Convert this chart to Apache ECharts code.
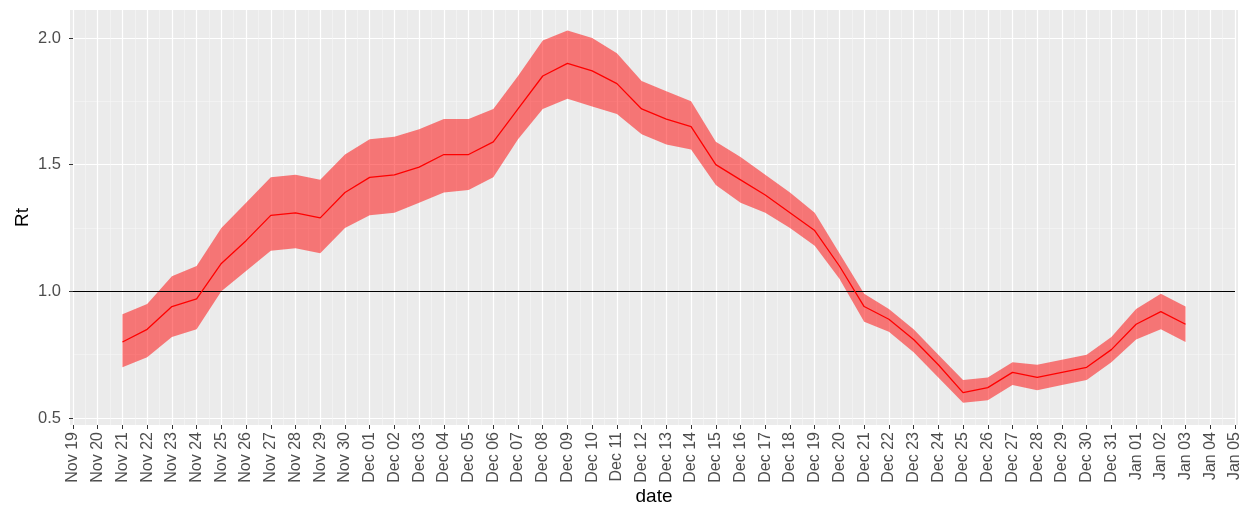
<!DOCTYPE html>
<html>
<head>
<meta charset="utf-8">
<script src="https://cdn.jsdelivr.net/npm/echarts@6/dist/echarts.min.js"></script>
<style>
  html, body { margin: 0; padding: 0; background: #fff; }
  #chart { width: 1246px; height: 508px; }
</style>
</head>
<body>
<div id="chart"></div>
<script>
// x axis tick labels (one per day)
const tickLabels = [
  'Nov 19', 'Nov 20', 'Nov 21', 'Nov 22', 'Nov 23', 'Nov 24', 'Nov 25', 'Nov 26',
  'Nov 27', 'Nov 28', 'Nov 29', 'Nov 30', 'Dec 01', 'Dec 02', 'Dec 03', 'Dec 04',
  'Dec 05', 'Dec 06', 'Dec 07', 'Dec 08', 'Dec 09', 'Dec 10', 'Dec 11', 'Dec 12',
  'Dec 13', 'Dec 14', 'Dec 15', 'Dec 16', 'Dec 17', 'Dec 18', 'Dec 19', 'Dec 20',
  'Dec 21', 'Dec 22', 'Dec 23', 'Dec 24', 'Dec 25', 'Dec 26', 'Dec 27', 'Dec 28',
  'Dec 29', 'Dec 30', 'Dec 31', 'Jan 01', 'Jan 02', 'Jan 03', 'Jan 04', 'Jan 05'
];

// dates that carry an estimate
const dataDates = [
  'Nov 21', 'Nov 22', 'Nov 23', 'Nov 24', 'Nov 25', 'Nov 26', 'Nov 27', 'Nov 28',
  'Nov 29', 'Nov 30', 'Dec 01', 'Dec 02', 'Dec 03', 'Dec 04', 'Dec 05', 'Dec 06',
  'Dec 07', 'Dec 08', 'Dec 09', 'Dec 10', 'Dec 11', 'Dec 12', 'Dec 13', 'Dec 14',
  'Dec 15', 'Dec 16', 'Dec 17', 'Dec 18', 'Dec 19', 'Dec 20', 'Dec 21', 'Dec 22',
  'Dec 23', 'Dec 24', 'Dec 25', 'Dec 26', 'Dec 27', 'Dec 28', 'Dec 29', 'Dec 30',
  'Dec 31', 'Jan 01', 'Jan 02', 'Jan 03'
];

const rt = [
  0.80, 0.85, 0.94, 0.97, 1.11, 1.20, 1.30, 1.31, 1.29, 1.39, 1.45, 1.46,
  1.49, 1.54, 1.54, 1.59, 1.72, 1.85, 1.90, 1.87, 1.82, 1.72, 1.68, 1.65,
  1.50, 1.44, 1.38, 1.31, 1.24, 1.10, 0.94, 0.89, 0.81, 0.71, 0.60, 0.62,
  0.68, 0.66, 0.68, 0.70, 0.77, 0.87, 0.92, 0.87
];
const rtLower = [
  0.70, 0.74, 0.82, 0.85, 1.00, 1.08, 1.16, 1.17, 1.15, 1.25, 1.30, 1.31,
  1.35, 1.39, 1.40, 1.45, 1.60, 1.72, 1.76, 1.73, 1.70, 1.62, 1.58, 1.56,
  1.42, 1.35, 1.31, 1.25, 1.18, 1.05, 0.88, 0.84, 0.76, 0.66, 0.56, 0.57,
  0.63, 0.61, 0.63, 0.65, 0.72, 0.81, 0.85, 0.80
];
const rtUpper = [
  0.91, 0.95, 1.06, 1.10, 1.25, 1.35, 1.45, 1.46, 1.44, 1.54, 1.60, 1.61,
  1.64, 1.68, 1.68, 1.72, 1.85, 1.99, 2.03, 2.00, 1.94, 1.83, 1.79, 1.75,
  1.59, 1.53, 1.46, 1.39, 1.31, 1.15, 0.99, 0.93, 0.85, 0.75, 0.65, 0.66,
  0.72, 0.71, 0.73, 0.75, 0.82, 0.93, 0.99, 0.94
];

const yMajor = [0.5, 1.0, 1.5, 2.0];
const yMinor = [0.75, 1.25, 1.75];
const threshold = 1.0;

const xOf = d => tickLabels.indexOf(d);
const bandData = dataDates.map((d, i) => [xOf(d), rtLower[i], rtUpper[i]]);
const rtData = dataDates.map((d, i) => [xOf(d), rt[i]]);

// ribbon: one polygon, upper edge left to right then lower edge back
function renderBand(params, api) {
  if (params.dataIndex !== 0) return null;
  const top = bandData.map(p => api.coord([p[0], p[2]]));
  const bottom = bandData.map(p => api.coord([p[0], p[1]])).reverse();
  return {
    type: 'polygon',
    shape: { points: top.concat(bottom) },
    style: { fill: 'rgba(255,0,0,0.5)', stroke: null }
  };
}

const font = 'Liberation Sans, Arial, sans-serif';
const chart = echarts.init(document.getElementById('chart'));
chart.setOption({
  animation: false,
  backgroundColor: '#ffffff',
  graphic: [{
    type: 'rect',
    z: -10,
    shape: { x: 70, y: 10, width: 1168, height: 415 },
    style: { fill: '#EBEBEB' }
  }],
  grid: {
    left: 73, right: 11, top: 10, bottom: 83,
    outerBoundsMode: 'none',
    containLabel: false,
    show: true, backgroundColor: '#EBEBEB', borderWidth: 0
  },
  xAxis: {
    type: 'value',
    min: 0,
    max: tickLabels.length - 1,
    interval: 1,
    name: 'date',
    nameLocation: 'middle',
    nameGap: 62,
    nameMoveOverlap: false,
    nameTextStyle: { color: '#000', fontSize: 19, fontFamily: font },
    axisLine: { show: false },
    axisTick: { show: true, length: 4, lineStyle: { color: '#333', width: 1 } },
    axisLabel: {
      rotate: 90,
      margin: 7,
      color: '#4D4D4D',
      fontSize: 16,
      fontFamily: font,
      showMinLabel: true,
      showMaxLabel: true,
      formatter: v => tickLabels[v] || ''
    },
    splitLine: { show: true, lineStyle: { color: '#FFFFFF', width: 1.2 } },
    minorTick: { show: false, splitNumber: 2 },
    minorSplitLine: { show: true, lineStyle: { color: '#F7F7F7', width: 0.6 } }
  },
  yAxis: [{
    type: 'value',
    min: 0.4724,
    max: 2.1105,
    offset: 3,
    name: 'Rt',
    nameLocation: 'middle',
    nameGap: 38,
    nameMoveOverlap: false,
    nameTextStyle: { color: '#000', fontSize: 19, fontFamily: font },
    axisLine: { show: false },
    axisTick: { show: true, length: 4, customValues: yMajor, lineStyle: { color: '#333', width: 1 } },
    axisLabel: {
      customValues: yMajor,
      margin: 9,
      color: '#4D4D4D',
      fontSize: 16.5,
      fontFamily: font,
      formatter: v => v.toFixed(1)
    },
    splitLine: { show: true, lineStyle: { color: '#FFFFFF', width: 1.2 } }
  }, {
    type: 'value',
    min: 0.4724,
    max: 2.1105,
    position: 'left',
    axisLine: { show: false },
    axisTick: { show: false, customValues: yMinor },
    axisLabel: { show: false, customValues: yMinor },
    splitLine: { show: true, lineStyle: { color: '#F7F7F7', width: 0.6 } }
  }],
  series: [{
    name: 'band',
    type: 'custom',
    renderItem: renderBand,
    data: bandData,
    encode: { x: 0, y: [1, 2] },
    silent: true,
    z: 2
  }, {
    name: 'Rt',
    type: 'line',
    data: rtData,
    symbol: 'none',
    lineStyle: { color: '#FF0000', width: 1.3 },
    z: 5,
    markLine: {
      silent: true,
      symbol: 'none',
      label: { show: false },
      lineStyle: { color: '#000', width: 1.2, type: 'solid' },
      data: [{ yAxis: threshold }]
    }
  }]
});
</script>
</body>
</html>
